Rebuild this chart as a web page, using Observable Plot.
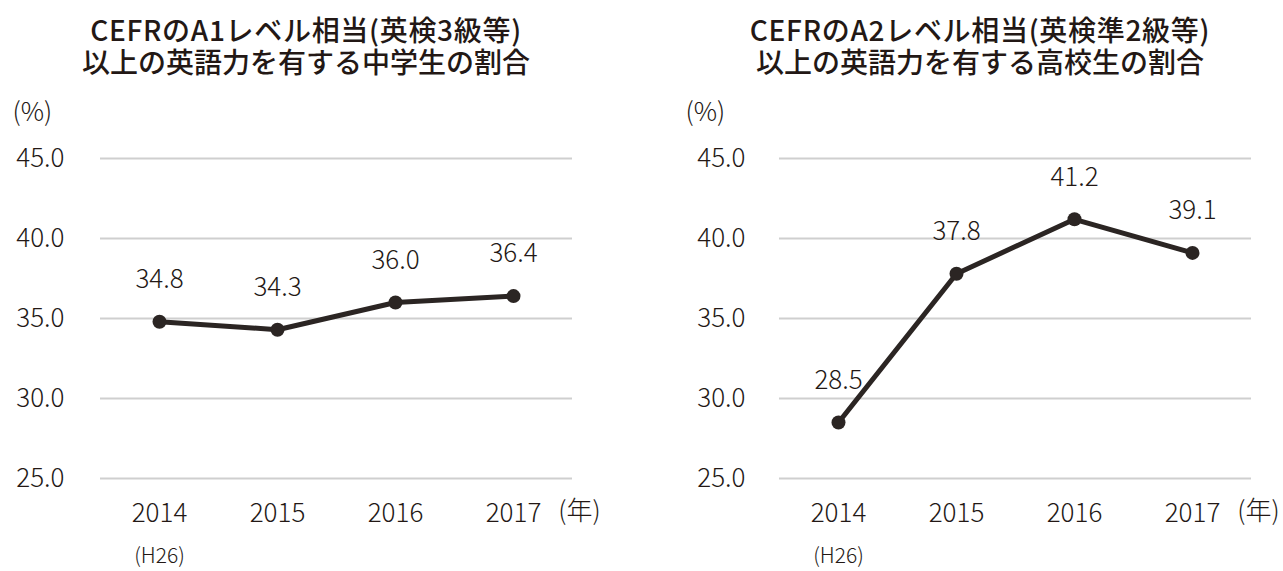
<!DOCTYPE html>
<html><head><meta charset="utf-8">
<script src="https://cdn.jsdelivr.net/npm/d3@7"></script>
<script src="https://cdn.jsdelivr.net/npm/@observablehq/plot@0.6"></script>
<style>
body{margin:0;background:#fff;}
#wrap{position:relative;width:1283px;height:571px;overflow:hidden;}
.panel{position:absolute;top:0;}
.tline{position:absolute;width:600px;height:31px;text-align:center;font-family:"Noto Sans CJK JP";font-weight:500;font-size:28px;line-height:31px;color:#231815;white-space:nowrap;}
.tline.first{letter-spacing:0.7px;}
.plot{position:absolute;top:95px;left:0;}
</style></head>
<body><div id="wrap"></div>
<script>
const years = ["2014","2015","2016","2017"];
const juniorValues = [34.8, 34.3, 36.0, 36.4];
const seniorValues = [28.5, 37.8, 41.2, 39.1];
const yTicks = [25, 30, 35, 40, 45];
const titleLeft = ["CEFRのA1レベル相当(英検3級等)", "以上の英語力を有する中学生の割合"];
const titleRight = ["CEFRのA2レベル相当(英検準2級等)", "以上の英語力を有する高校生の割合"];
const yUnit = "(%)";
const xUnit = "(年)";
const firstNote = "(H26)";

const ink = "#231815";
const lineCol = "#2b2523";
const font = '"Noto Sans CJK JP"';

function makePanel(values, opts){
  const data = years.map((y,i)=>({year:y, value:values[i]}));
  return Plot.plot({
    width: opts.width, height: 476,
    marginLeft: opts.ml, marginRight: opts.mr, marginTop: 63, marginBottom: 93,
    style: {fontFamily: font, fontSize: "26px", fontWeight: 300, color: ink, background: "transparent", overflow: "visible"},
    x: {type: "band", domain: years, padding: 0, axis: null},
    y: {domain: [25, 45], axis: null},
    marks: [
      Plot.ruleY(yTicks, {stroke: "#cfcfcf", strokeWidth: 2}),
      Plot.axisY({ticks: yTicks, tickFormat: d => d.toFixed(1), tickSize: 0, tickPadding: opts.ytp, label: null, fontSize: 26, fill: ink}),
      Plot.axisX({ticks: years, tickSize: 0, tickPadding: 25, label: null, fontSize: 26, fill: ink}),
      Plot.line(data, {x: "year", y: "value", stroke: lineCol, strokeWidth: 5}),
      Plot.dot(data, {x: "year", y: "value", r: 7, fill: lineCol}),
      Plot.text(data, {x: "year", y: "value", text: d => d.value.toFixed(1), dy: -42, fontSize: 26, fill: ink}),
      Plot.text([yUnit], {frameAnchor: "top-left", lineAnchor: "middle", dx: opts.unitDx, dy: -46, textAnchor: "start", fontSize: 26, fill: ink}),
      Plot.text([xUnit], {x: () => years[years.length-1], frameAnchor: "bottom", lineAnchor: "middle", dx: 66, dy: 33, fontSize: 26, fill: ink}),
      Plot.text([firstNote], {x: () => years[0], frameAnchor: "bottom", lineAnchor: "middle", dy: 78, fontSize: 21, fill: ink})
    ]
  });
}

const wrap = document.getElementById("wrap");
function addPanel(left, width, titleLines, titleCenter, values, opts){
  const p = document.createElement("div");
  p.className = "panel"; p.style.left = left + "px"; p.style.width = width + "px"; p.style.height = "571px";
  titleLines.forEach((line, i) => {
    const t = document.createElement("div");
    t.className = "tline" + (i === 0 ? " first" : "");
    t.style.left = (titleCenter - left - 300) + "px";
    t.style.top = (14 + i * 32) + "px";
    t.textContent = line;
    p.appendChild(t);
  });
  const svg = makePanel(values, opts);
  svg.classList.add("plot");
  p.appendChild(svg);
  wrap.appendChild(p);
}
addPanel(0, 641, titleLeft, 306, juniorValues, {width: 641, ml: 100, mr: 69, unitDx: -88, ytp: 36});
addPanel(641, 642, titleRight, 980, seniorValues, {width: 642, ml: 138, mr: 32, unitDx: -94, ytp: 34});
</script></body></html>
